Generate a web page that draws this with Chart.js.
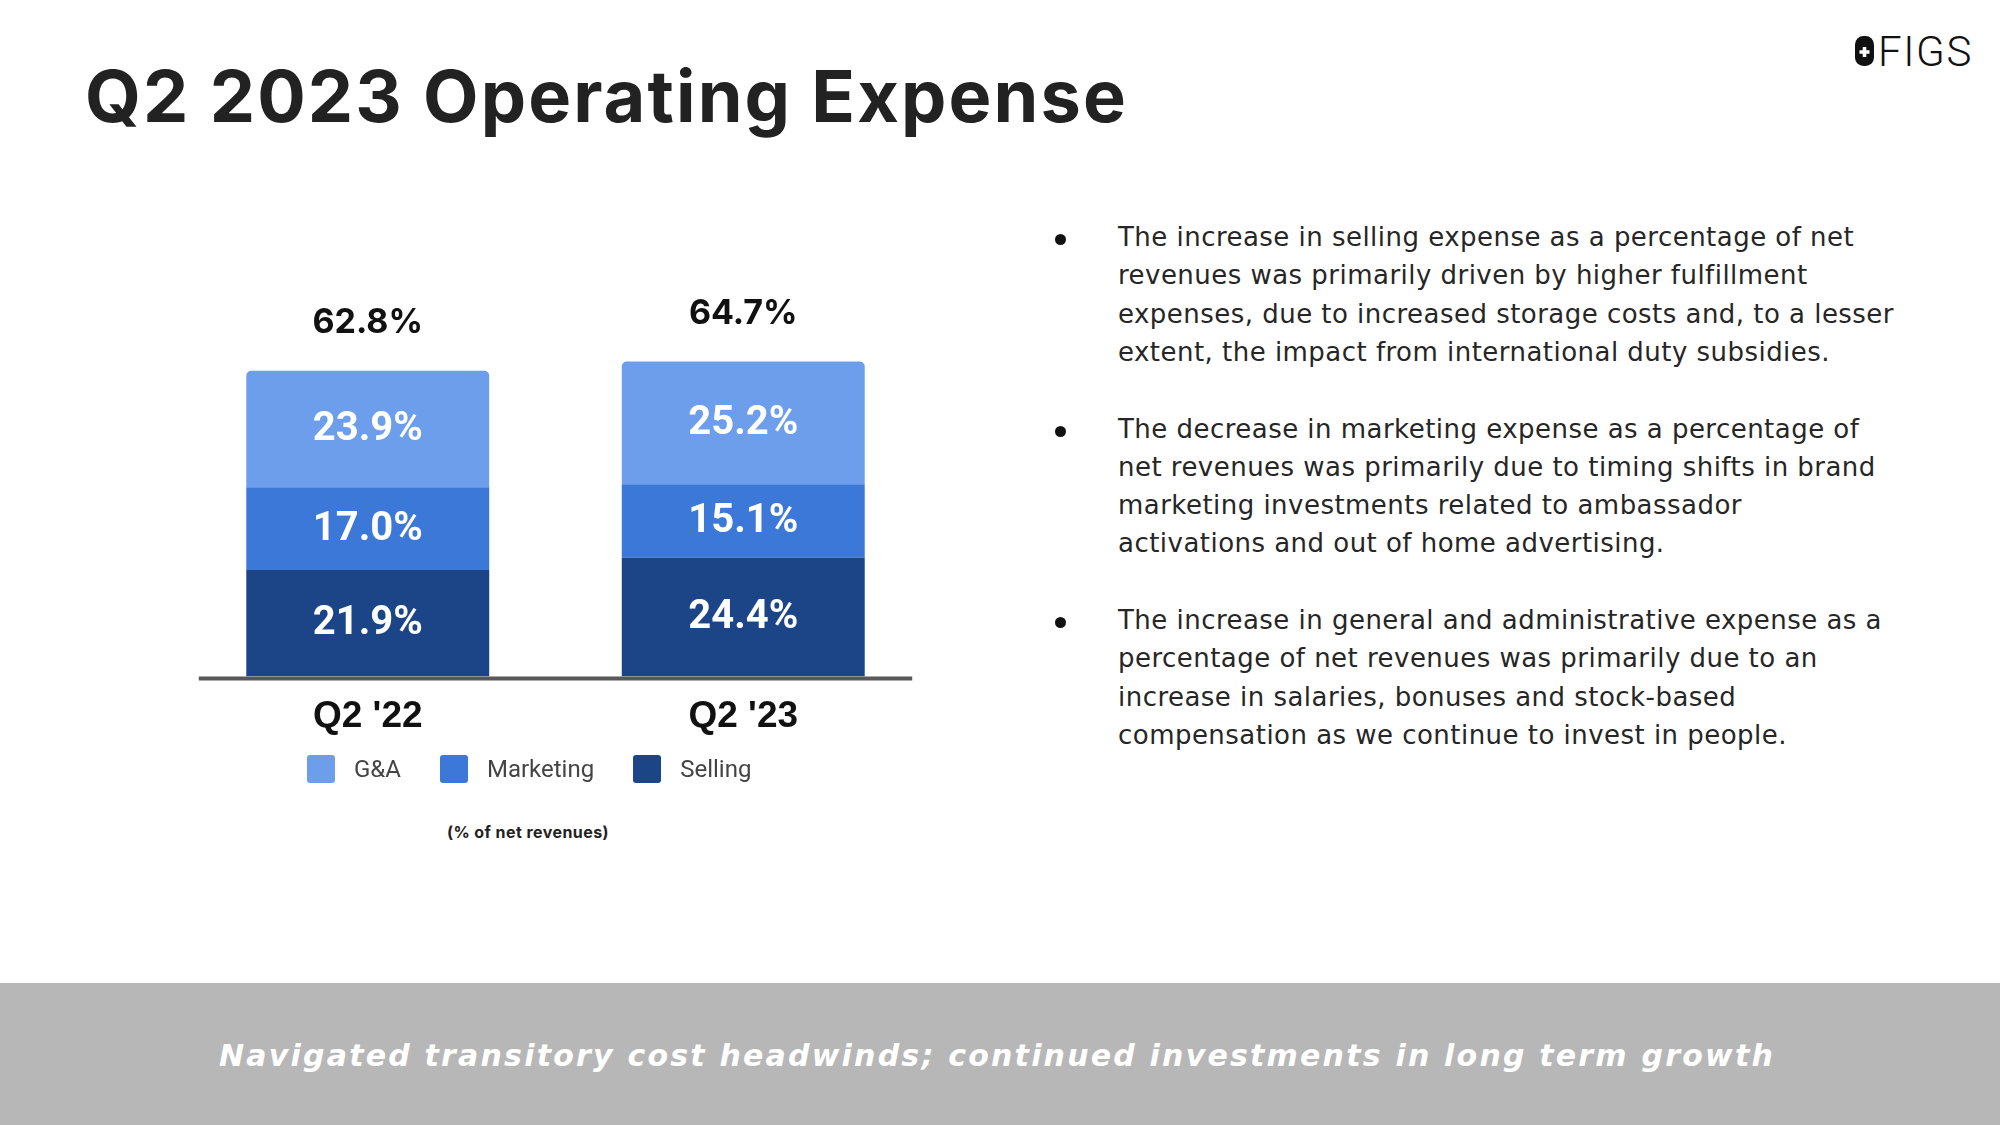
<!DOCTYPE html>
<html>
<head>
<meta charset="utf-8">
<script src="https://cdn.jsdelivr.net/npm/chart.js@4.4.0/dist/chart.umd.min.js"></script>
<style>
  html, body { margin: 0; padding: 0; background: #fff; }
  body { width: 2000px; height: 1125px; position: relative; overflow: hidden; font-family: Inter, sans-serif; }
  .abs { position: absolute; white-space: nowrap; line-height: 1; }
  .title { left: 85px; top: 60px; font-size: 72px; font-weight: 700; color: #222; }
  .logo-mark { position: absolute; left: 1855px; top: 36px; }
  .logo-text { left: 1878px; top: 31px; font-family: Roboto, sans-serif; font-weight: 300; font-size: 42px; color: #111; }
  #chartBox { position: absolute; left: 150px; top: 250px; width: 800px; height: 511px; }
  #legend { position: absolute; left: 307px; top: 755px; height: 28px; display: flex; align-items: center; gap: 39px;
            font-family: Roboto, sans-serif; font-size: 24px; color: #444; white-space: nowrap; }
  #legend .item { display: flex; align-items: center; gap: 19px; }
  #legend .box { width: 28px; height: 28px; border-radius: 3px; }
  .note { left: 528px; top: 824px; transform: translateX(-50%); font-size: 16px; font-weight: 700; color: #222; }
  .bullet { position: absolute; left: 1118px; font-family: 'DejaVu Sans', sans-serif; font-weight: 400;
            font-size: 26px; line-height: 38.3px; color: #262626; }
  .bullet .ln { display: block; white-space: nowrap; }
  .bullet .dot { position: absolute; left: -63px; top: 16px; width: 11px; height: 11px; border-radius: 50%; background: #111; }
  .footer { position: absolute; left: 0; top: 983px; width: 2000px; height: 142px; background: #b7b7b7; }
  .footer-text { left: 997px; top: 1041px; transform: translateX(-50%); font-family: 'DejaVu Sans', sans-serif;
                 font-size: 30px; font-weight: 700; font-style: italic; color: #fff; }
</style>
</head>
<body>
  <div class="abs title" id="title">Q2 2023 Operating Expense</div>

  <svg class="logo-mark" width="19" height="30" viewBox="0 0 19 30">
    <rect x="0" y="0" width="19" height="30" rx="8.5" fill="#111"/>
    <path d="M9.5 11 V21 M4.5 16 H14.5" stroke="#fff" stroke-width="3.6"/>
  </svg>
  <div class="abs logo-text" id="logoText">FIGS</div>

  <div id="chartBox"><canvas id="opexChart"></canvas></div>
  <div id="legend"></div>
  <div class="abs note" id="note">(% of net revenues)</div>

  <div class="bullet" style="top:218px"><span class="dot"></span>
    <span class="ln">The increase in selling expense as a percentage of net</span>
    <span class="ln">revenues was primarily driven by higher fulfillment</span>
    <span class="ln" id="longLine">expenses, due to increased storage costs and, to a lesser</span>
    <span class="ln">extent, the impact from international duty subsidies.</span>
  </div>
  <div class="bullet" style="top:409.5px"><span class="dot"></span>
    <span class="ln">The decrease in marketing expense as a percentage of</span>
    <span class="ln">net revenues was primarily due to timing shifts in brand</span>
    <span class="ln">marketing investments related to ambassador</span>
    <span class="ln">activations and out of home advertising.</span>
  </div>
  <div class="bullet" style="top:601px"><span class="dot"></span>
    <span class="ln">The increase in general and administrative expense as a</span>
    <span class="ln">percentage of net revenues was primarily due to an</span>
    <span class="ln">increase in salaries, bonuses and stock-based</span>
    <span class="ln">compensation as we continue to invest in people.</span>
  </div>

  <div class="footer"></div>
  <div class="abs footer-text" id="footerText">Navigated transitory cost headwinds; continued investments in long term growth</div>

<script>
// data (% of net revenues)
const quarters = ["Q2 '22", "Q2 '23"];
const sellingPct = [21.9, 24.4];
const marketingPct = [17.0, 15.1];
const gaPct = [23.9, 25.2];

const seriesNames = ['Selling', 'Marketing', 'G&A'];
const seriesColors = ['#1c4587', '#3c78d8', '#6d9eeb'];

// stretch text with letter-spacing so it spans the same width as the slide
function fitWidth(el, target) {
  el.style.letterSpacing = '0px';
  el.style.display = 'inline-block';
  const w = el.getBoundingClientRect().width;
  const n = el.textContent.trim().length;
  const ls = (target - w) / n;
  el.style.letterSpacing = ls + 'px';
  return ls;
}

// segment values, totals on top, and the base line
const barLabels = {
  id: 'barLabels',
  afterDatasetsDraw(chart) {
    const ctx = chart.ctx;
    const xs = chart.scales.x;
    const ys = chart.scales.y;
    ctx.save();

    ctx.textAlign = 'center';
    ctx.textBaseline = 'middle';
    ctx.fillStyle = '#ffffff';
    ctx.font = 'bold 40px Roboto';
    chart.data.datasets.forEach((ds, i) => {
      chart.getDatasetMeta(i).data.forEach((bar, j) => {
        ctx.fillText(ds.data[j].toFixed(1) + '%', bar.x, (bar.y + bar.base) / 2 + 1);
      });
    });

    const topMeta = chart.getDatasetMeta(chart.data.datasets.length - 1);
    ctx.textBaseline = 'alphabetic';
    ctx.fillStyle = '#111';
    ctx.font = 'bold 34px Inter';
    topMeta.data.forEach((bar, j) => {
      const total = chart.data.datasets.reduce((s, ds) => s + ds.data[j], 0);
      ctx.fillText(total.toFixed(1) + '%', bar.x, bar.y - 38);
    });

    const y0 = ys.getPixelForValue(0);
    ctx.strokeStyle = '#595959';
    ctx.lineWidth = 4;
    ctx.beginPath();
    ctx.moveTo(xs.getPixelForValue(-0.45), y0 + 2);
    ctx.lineTo(xs.getPixelForValue(1.45), y0 + 2);
    ctx.stroke();
    ctx.restore();
  }
};

// legend as html, built from the chart's own legend items
const htmlLegend = {
  id: 'htmlLegend',
  afterUpdate(chart) {
    const box = document.getElementById('legend');
    box.innerHTML = '';
    const items = chart.options.plugins.legend.labels.generateLabels(chart).reverse();
    items.forEach(item => {
      const div = document.createElement('div');
      div.className = 'item';
      const sw = document.createElement('span');
      sw.className = 'box';
      sw.style.background = item.fillStyle;
      const txt = document.createElement('span');
      txt.textContent = item.text;
      div.appendChild(sw);
      div.appendChild(txt);
      box.appendChild(div);
    });
  }
};

const values = [sellingPct, marketingPct, gaPct];

new Chart(document.getElementById('opexChart'), {
  type: 'bar',
  data: {
    labels: quarters,
    datasets: seriesNames.map((name, i) => ({
      label: name,
      data: values[i],
      backgroundColor: seriesColors[i],
      borderWidth: 0,
      borderRadius: i === 2 ? { topLeft: 5, topRight: 5, bottomLeft: 0, bottomRight: 0 } : 0,
      barPercentage: 0.647,
      categoryPercentage: 1
    }))
  },
  options: {
    responsive: true,
    maintainAspectRatio: false,
    animation: false,
    layout: { padding: { left: 30, right: 19, top: 37, bottom: 4 } },
    plugins: {
      legend: { display: false },
      tooltip: { enabled: false }
    },
    scales: {
      x: {
        stacked: true,
        grid: { display: false, drawTicks: false },
        border: { display: false },
        ticks: {
          padding: 18,
          color: '#111',
          font: { family: 'Liberation Sans', size: 37, weight: 'bold' }
        }
      },
      y: {
        stacked: true,
        display: false,
        min: 0,
        max: 80
      }
    }
  },
  plugins: [barLabels, htmlLegend]
});

fitWidth(document.getElementById('title'), 1043);
fitWidth(document.getElementById('logoText'), 95);
fitWidth(document.getElementById('footerText'), 1556);
fitWidth(document.getElementById('note'), 162);
const ls = fitWidth(document.getElementById('longLine'), 776);
document.querySelectorAll('.bullet .ln').forEach(el => { el.style.letterSpacing = ls + 'px'; });
</script>
</body>
</html>
